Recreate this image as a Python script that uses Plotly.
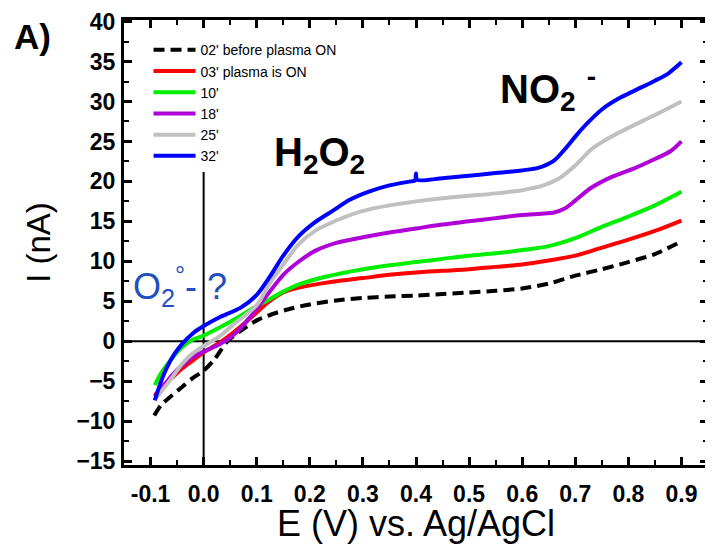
import plotly.graph_objects as go

# ---- data ----
x_02 = [-0.093, -0.08, -0.06, -0.04, -0.02, 0.0, 0.02, 0.045, 0.07, 0.1, 0.13, 0.16, 0.2, 0.25, 0.3, 0.35,
        0.4, 0.45, 0.5, 0.55, 0.6, 0.65, 0.7, 0.75, 0.8, 0.85, 0.9]
y_02 = [-9.3, -8.0, -6.8, -5.7, -4.6, -3.7, -2.3, 0.0, 1.3, 2.6, 3.4, 4.0, 4.6, 5.1, 5.4, 5.6,
        5.7, 5.9, 6.1, 6.3, 6.6, 7.2, 8.2, 9.0, 9.9, 10.9, 12.5]

x_03 = [-0.092, -0.08, -0.06, -0.04, -0.02, 0.0, 0.03, 0.06, 0.09, 0.12, 0.15, 0.18, 0.22, 0.26, 0.3, 0.35,
        0.4, 0.45, 0.5, 0.55, 0.6, 0.65, 0.7, 0.75, 0.8, 0.85, 0.9]
y_03 = [-6.8, -5.8, -4.6, -3.4, -2.4, -1.4, -0.2, 1.3, 3.0, 4.8, 6.1, 6.7, 7.2, 7.6, 7.9, 8.3,
        8.6, 8.8, 9.0, 9.3, 9.6, 10.1, 10.7, 11.7, 12.7, 13.8, 15.1]

x_10 = [-0.092, -0.08, -0.06, -0.04, -0.02, 0.0, 0.03, 0.06, 0.09, 0.12, 0.15, 0.18, 0.22, 0.26, 0.3, 0.35,
        0.4, 0.45, 0.5, 0.55, 0.6, 0.65, 0.7, 0.75, 0.8, 0.85, 0.9]
y_10 = [-5.5, -4.0, -2.2, -0.7, 0.2, 0.7, 1.7, 2.8, 4.0, 5.1, 6.2, 7.1, 7.9, 8.5, 9.0, 9.5,
        9.9, 10.3, 10.7, 11.0, 11.4, 11.9, 12.9, 14.3, 15.6, 17.0, 18.7]

x_18 = [-0.092, -0.08, -0.06, -0.04, -0.02, 0.0, 0.03, 0.06, 0.09, 0.12, 0.15, 0.18, 0.21, 0.25, 0.3, 0.35,
        0.4, 0.45, 0.5, 0.55, 0.6, 0.66, 0.68, 0.7, 0.73, 0.77, 0.81, 0.85, 0.88, 0.9]
y_18 = [-7.0, -6.0, -4.3, -3.0, -2.0, -1.3, -0.4, 1.0, 3.2, 5.8, 8.3, 10.0, 11.3, 12.3, 13.0, 13.6,
        14.1, 14.6, 15.0, 15.4, 15.8, 16.1, 16.6, 17.6, 19.2, 20.6, 21.6, 22.8, 23.8, 25.0]

x_25 = [-0.092, -0.08, -0.06, -0.04, -0.02, 0.0, 0.03, 0.06, 0.1, 0.125, 0.15, 0.18, 0.21, 0.25, 0.3, 0.35,
        0.4, 0.45, 0.5, 0.55, 0.6, 0.64, 0.67, 0.7, 0.73, 0.76, 0.8, 0.85, 0.9]
y_25 = [-7.3, -6.3, -4.6, -2.8, -1.5, -0.6, 0.6, 2.3, 4.5, 7.3, 9.6, 12.2, 13.8, 15.1, 16.3, 17.0,
        17.5, 17.9, 18.2, 18.5, 18.9, 19.5, 20.4, 22.0, 24.0, 25.3, 26.7, 28.3, 30.0]

x_32 = [-0.092, -0.08, -0.07, -0.055, -0.04, -0.02, 0.0, 0.03, 0.07, 0.1, 0.125, 0.15, 0.18, 0.21, 0.245,
        0.275, 0.31, 0.35, 0.39, 0.398, 0.4, 0.402, 0.45, 0.5, 0.56, 0.63, 0.66, 0.68, 0.7, 0.72, 0.75,
        0.78, 0.81, 0.85, 0.875, 0.9]
y_32 = [-7.4, -5.0, -3.4, -1.6, -0.3, 1.0, 1.9, 3.0, 4.2, 5.8, 8.1, 10.7, 13.2, 14.9, 16.4,
        17.7, 18.7, 19.5, 20.0, 20.1, 21.0, 20.2, 20.4, 20.7, 21.1, 21.7, 22.6, 24.0, 25.6, 27.1, 29.0,
        30.3, 31.3, 32.6, 33.5, 34.9]

names = ["02' before plasma ON", "03' plasma is ON", "10'", "18'", "25'", "32'"]
colors = ["#000000", "#ff0000", "#00ee00", "#b000d8", "#c0c0c0", "#0000ff"]
xs = [x_02, x_03, x_10, x_18, x_25, x_32]
ys = [y_02, y_03, y_10, y_18, y_25, y_32]

x_ticks = [-0.1, 0.0, 0.1, 0.2, 0.3, 0.4, 0.5, 0.6, 0.7, 0.8, 0.9]
y_ticks = [-15, -10, -5, 0, 5, 10, 15, 20, 25, 30, 35, 40]

FONT = "Liberation Sans, Arial, sans-serif"

fig = go.Figure()
for i, (xv, yv) in enumerate(zip(xs, ys)):
    fig.add_trace(go.Scatter(
        x=xv, y=yv, mode="lines", name=names[i],
        line=dict(color=colors[i], width=4, shape="spline", smoothing=0.8,
                  dash="11px,6px" if i == 0 else "solid"),
    ))

# reference lines at x=0 and y=0
fig.add_shape(type="line", xref="paper", yref="y", x0=0, x1=1, y0=0, y1=0,
              line=dict(color="black", width=2), layer="below")
fig.add_shape(type="line", xref="x", yref="y", x0=0, x1=0, y0=-15.5, y1=22,
              line=dict(color="black", width=2), layer="below")

axis_common = dict(showline=True, linecolor="black", linewidth=3, mirror="allticks",
                   ticks="inside", ticklen=8, tickwidth=3, tickcolor="black",
                   showgrid=False, zeroline=False, automargin=False,
                   tickfont=dict(family=FONT, size=23, color="black", weight="bold"))

fig.update_xaxes(range=[-0.15, 0.95], tickvals=x_ticks, ticktext=[f"{v:.1f}" for v in x_ticks],
                 minor=dict(ticks="inside", ticklen=5, tickwidth=2, tickcolor="black", dtick=0.05, tick0=0),
                 ticklabelstandoff=6,
                 title=dict(text="E (V) vs. Ag/AgCl", font=dict(family=FONT, size=36, color="black"), standoff=3),
                 **axis_common)
fig.update_yaxes(range=[-15.5, 40.2], tickvals=y_ticks,
                 minor=dict(ticks="inside", ticklen=5, tickwidth=2, tickcolor="black", dtick=2.5, tick0=0),
                 ticklabelstandoff=1,
                 title=dict(text="I (nA)", font=dict(family=FONT, size=33, color="black"), standoff=16),
                 **axis_common)

fig.add_annotation(text="<b>A)</b>", xref="paper", yref="paper", x=-0.156, y=0.962,
                   xanchor="center", yanchor="middle", showarrow=False,
                   font=dict(family=FONT, size=35, color="black"))
fig.add_annotation(text="<b>H<sub>2</sub>O<sub>2</sub></b>", xref="x", yref="y", x=0.128, y=23.3,
                   xanchor="left", yanchor="middle", showarrow=False,
                   font=dict(family=FONT, size=40, color="black"))
fig.add_annotation(text="<b>NO<sub>2</sub> <sup>-</sup></b>", xref="x", yref="y", x=0.555, y=31.6,
                   xanchor="left", yanchor="middle", showarrow=False,
                   font=dict(family=FONT, size=40, color="black"))
fig.add_annotation(text="O<sub>2</sub><sup>°</sup>- ?", xref="x", yref="y", x=-0.13, y=6.9,
                   xanchor="left", yanchor="middle", showarrow=False, xshift=-4,
                   font=dict(family=FONT, size=36, color="#1f4fc0"))

# page body adds an 8px offset, so the figure is 8px smaller on each axis
fig.update_layout(
    width=705, height=536,
    margin=dict(l=116, r=5, t=12, b=79),
    plot_bgcolor="white", paper_bgcolor="white",
    showlegend=True,
    legend=dict(x=0.042, y=0.968, xanchor="left", yanchor="top", bgcolor="white",
                font=dict(family=FONT, size=14, color="black"), itemwidth=42,
                tracegroupgap=0, borderwidth=0),
)

fig.write_html("out.html")
